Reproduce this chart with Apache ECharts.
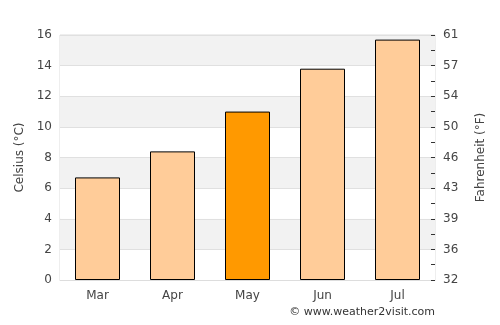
<!DOCTYPE html>
<html>
<head>
<meta charset="utf-8">
<script src="https://cdn.jsdelivr.net/npm/echarts@6/dist/echarts.min.js"></script>
<style>
html,body{margin:0;padding:0;background:#fff;}
#main{width:500px;height:325px;}
</style>
</head>
<body>
<div id="main"></div>
<script>
// data
var months = ['Mar', 'Apr', 'May', 'Jun', 'Jul'];
var celsius = [6.7, 8.4, 11.0, 13.8, 15.7];
var fahrenheitLabels = ['32', '36', '39', '43', '46', '50', '54', '57', '61'];
var highlight = 'May';

var chart = echarts.init(document.getElementById('main'));
var font = 'DejaVu Sans';

chart.setOption({
    animation: false,
    textStyle: {fontFamily: font},
    grid: {left: 60, right: 65, top: 35, bottom: 45, show: true, borderColor: '#dddddd', borderWidth: 1},
    graphic: [{
        type: 'text',
        right: 65,
        top: 307,
        style: {text: '© www.weather2visit.com', fill: '#333', font: '11px "DejaVu Sans"'}
    }],
    xAxis: {
        type: 'category',
        data: months,
        axisLine: {lineStyle: {color: '#dddddd'}},
        axisTick: {show: false},
        axisLabel: {color: '#444', fontSize: 12, margin: 10}
    },
    yAxis: [{
        type: 'value',
        min: 0, max: 16, interval: 2,
        name: 'Celsius (°C)',
        nameLocation: 'middle',
        nameGap: 34,
        nameTextStyle: {color: '#444', fontSize: 12},
        axisLine: {show: false},
        axisTick: {show: false},
        axisLabel: {color: '#444', fontSize: 12, margin: 8},
        splitLine: {lineStyle: {color: '#e0e0e0'}},
        splitArea: {show: true, areaStyle: {color: ['#ffffff', '#f2f2f2']}}
    }, {
        type: 'value',
        min: 0, max: 16, interval: 2,
        position: 'right',
        name: 'Fahrenheit (°F)',
        nameLocation: 'middle',
        nameGap: 40,
        nameRotate: 90,
        nameTextStyle: {color: '#444', fontSize: 12},
        axisLine: {show: false},
        axisTick: {show: true, inside: true, length: 4, lineStyle: {color: '#333'}},
        minorTick: {show: true, splitNumber: 2, length: 4, lineStyle: {color: '#333'}},
        axisLabel: {
            color: '#444', fontSize: 12, margin: 8,
            formatter: function (v) { return fahrenheitLabels[Math.round(v / 2)]; }
        },
        splitLine: {show: false}
    }],
    series: [{
        type: 'bar',
        barWidth: '60%',
        data: celsius.map(function (v, i) {
            return {
                value: v,
                itemStyle: {color: months[i] === highlight ? '#ff9900' : '#ffcc99'}
            };
        }),
        itemStyle: {borderColor: '#000', borderWidth: 1}
    }]
});
</script>
</body>
</html>
